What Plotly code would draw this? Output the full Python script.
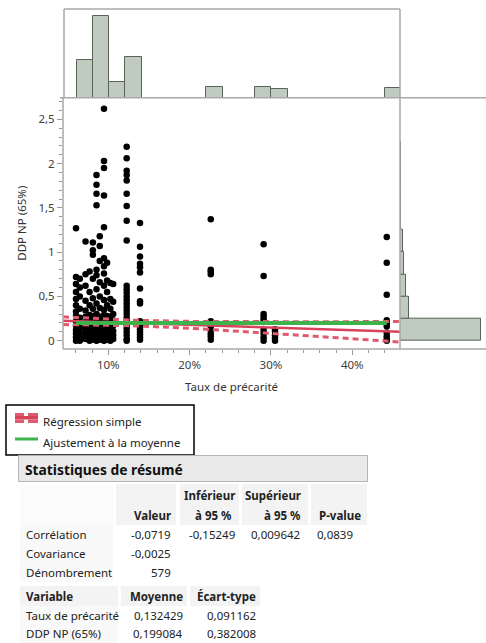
import plotly.graph_objects as go
import numpy as np

W, H = 486, 643

# ---------------- data ----------------
column_x = [0.0603, 0.0650, 0.0720, 0.0770, 0.0810, 0.0855, 0.0895, 0.0947,
            0.0985, 0.1025, 0.1060, 0.1226, 0.1390, 0.2260, 0.2910, 0.3050, 0.4424]
column_y = [
    [1.27, 0.72, 0.64, 0.55, 0.47, 0.40, 0.33, 0.28, 0.22, 0.17, 0.12, 0.08, 0.04, 0.0],
    [0.70, 0.60, 0.50, 0.36, 0.26, 0.20, 0.14, 0.09, 0.04, 0.0],
    [1.12, 0.75, 0.62, 0.45, 0.34, 0.27, 0.21, 0.16, 0.11, 0.06, 0.02],
    [0.78, 0.55, 0.40, 0.29, 0.23, 0.18, 0.12, 0.07, 0.03, 0.0],
    [1.11, 1.02, 0.97, 0.70, 0.48, 0.36, 0.28, 0.22, 0.16, 0.11, 0.06, 0.01],
    [1.87, 1.76, 1.66, 1.53, 0.80, 0.74, 0.58, 0.42, 0.30, 0.24, 0.19, 0.13, 0.08, 0.04, 0.0],
    [1.18, 1.07, 0.90, 0.66, 0.50, 0.37, 0.27, 0.21, 0.15, 0.10, 0.05, 0.01],
    [2.62, 2.03, 1.95, 1.64, 1.28, 0.93, 0.84, 0.76, 0.62, 0.46, 0.35, 0.29, 0.23, 0.17, 0.12, 0.07, 0.03, 0.0],
    [0.88, 0.68, 0.55, 0.40, 0.28, 0.22, 0.16, 0.10, 0.05, 0.01],
    [0.65, 0.47, 0.36, 0.27, 0.20, 0.14, 0.09, 0.04, 0.0],
    [0.64, 0.44, 0.30, 0.23, 0.17, 0.11, 0.06, 0.02],
    [2.19, 2.06, 1.92, 1.87, 1.81, 1.66, 1.52, 1.355, 1.13, 0.62, 0.58, 0.54, 0.50, 0.46, 0.42, 0.38,
     0.34, 0.30, 0.26, 0.22, 0.18, 0.14, 0.10, 0.06, 0.02, 0.0],
    [1.33, 1.06, 0.95, 0.87, 0.83, 0.77, 0.59, 0.445, 0.42, 0.22, 0.19, 0.16, 0.13, 0.10, 0.07, 0.04, 0.01],
    [1.37, 0.80, 0.78, 0.75, 0.22, 0.19, 0.16, 0.12, 0.08, 0.05, 0.01],
    [1.09, 0.73, 0.30, 0.27, 0.24, 0.21, 0.12, 0.08, 0.04, 0.0],
    [0.13, 0.10, 0.06, 0.03, 0.0],
    [1.17, 0.88, 0.52, 0.23, 0.19, 0.16, 0.09, 0.05, 0.02, 0.0],
]

top_bin_left = [0.06, 0.08, 0.10, 0.12, 0.22, 0.28, 0.30, 0.44]
top_counts = [101, 220, 43, 110, 29, 28, 23, 25]
top_bin_width = 0.02

right_bin_low = [0.0, 0.25, 0.5, 0.75, 1.0, 1.25, 1.5, 1.75, 2.0, 2.25, 2.5]
right_counts = [443, 47, 32, 21, 15, 6, 6, 5, 3, 0, 1]
right_bin_width = 0.25

n_obs = 579
corr = -0.0719
corr_low, corr_high, p_value = -0.15249, 0.009642, 0.0839
covariance = -0.0025
mean_x, sd_x = 0.132429, 0.091162
mean_y, sd_y = 0.199084, 0.382008

x_range = [0.0443, 0.4587]
y_range = [-0.094, 2.744]

# ---------------- helpers ----------------
def PX(px):
    return px / W

def PY(py):
    return 1 - py / H

FONT = "Noto Sans"
GRAY_LINE = "#a9a9a9"
BAR_FILL = "#bfcbbe"
BAR_LINE = "#5a635a"
RED = "#d8435c"
RED_D = "#e05a6e"
GREEN = "#3fb34b"
FS = 11.5

fig = go.Figure()

# scatter points
sx, sy = [], []
for cx, ys in zip(column_x, column_y):
    for v in ys:
        sx.append(cx)
        sy.append(v)
fig.add_trace(go.Scatter(x=sx, y=sy, mode="markers",
                         marker=dict(color="black", size=6.5, line=dict(width=0)),
                         xaxis="x", yaxis="y", hoverinfo="skip"))

# regression fit + confidence band (from summary stats)
slope = corr * sd_y / sd_x
intercept = mean_y - slope * mean_x
xg = np.linspace(x_range[0], x_range[1], 60)
yhat = intercept + slope * xg
s_res = sd_y * np.sqrt((1 - corr ** 2) * (n_obs - 1) / (n_obs - 2))
sxx = (n_obs - 1) * sd_x ** 2
half = 1.964 * s_res * np.sqrt(1.0 / n_obs + (xg - mean_x) ** 2 / sxx)
for band in (yhat + half, yhat - half):
    fig.add_trace(go.Scatter(x=xg, y=band, mode="lines",
                             line=dict(color=RED_D, width=3, dash="6px,4px"),
                             xaxis="x", yaxis="y", hoverinfo="skip"))
fig.add_trace(go.Scatter(x=xg, y=yhat, mode="lines", line=dict(color=RED, width=2.5),
                         xaxis="x", yaxis="y", hoverinfo="skip"))
# mean fit
fig.add_trace(go.Scatter(x=[min(column_x), max(column_x)], y=[mean_y, mean_y], mode="lines",
                         line=dict(color=GREEN, width=4), xaxis="x", yaxis="y", hoverinfo="skip"))

# top histogram
fig.add_trace(go.Bar(x=[b + top_bin_width / 2 for b in top_bin_left], y=top_counts,
                     width=top_bin_width, marker=dict(color=BAR_FILL, line=dict(color=BAR_LINE, width=1)),
                     xaxis="x2", yaxis="y2", hoverinfo="skip"))
# right histogram
fig.add_trace(go.Bar(y=[b + right_bin_width / 2 for b in right_bin_low], x=right_counts,
                     width=right_bin_width, orientation="h",
                     marker=dict(color=BAR_FILL, line=dict(color=BAR_LINE, width=1)),
                     xaxis="x3", yaxis="y3", hoverinfo="skip"))

main_x_dom = [PX(63), PX(400)]
main_y_dom = [PY(349), PY(97.7)]

tickfont = dict(family=FONT, size=FS, color="#404040")
fig.update_layout(
    width=W, height=H, margin=dict(l=0, r=0, t=0, b=0),
    paper_bgcolor="white", plot_bgcolor="white", showlegend=False,
    separators=", ",
    bargap=0,
    xaxis=dict(domain=main_x_dom, range=x_range, anchor="y", tickvals=[0.1, 0.2, 0.3, 0.4],
               tickformat=".0%", ticks="outside", ticklen=5, tickcolor="#9a9a9a", tickwidth=1,
               minor=dict(dtick=0.02, tick0=0, ticks="outside", ticklen=3, tickcolor="#9a9a9a"),
               showgrid=False, zeroline=False, showline=False, tickfont=tickfont),
    yaxis=dict(domain=main_y_dom, range=y_range, anchor="x", dtick=0.5, tick0=0,
               ticks="outside", ticklen=5, tickcolor="#9a9a9a", tickwidth=1,
               minor=dict(dtick=0.1, tick0=0, ticks="outside", ticklen=3, tickcolor="#9a9a9a"),
               showgrid=False, zeroline=False, showline=False, tickfont=tickfont),
    xaxis2=dict(domain=[PX(64), PX(400)], range=x_range, anchor="y2", visible=False),
    yaxis2=dict(domain=[PY(97.7), PY(9)], range=[0, 238], anchor="x2", visible=False),
    xaxis3=dict(domain=[PX(400), 1], range=[0, 472], anchor="y3", visible=False),
    yaxis3=dict(domain=main_y_dom, range=y_range, anchor="x3", visible=False),
)

shapes = []
def hline(x0, x1, y, color=GRAY_LINE, width=1.5):
    shapes.append(dict(type="line", xref="paper", yref="paper", x0=PX(x0), x1=PX(x1),
                       y0=PY(y), y1=PY(y), line=dict(color=color, width=width)))
def vline(x, y0, y1, color=GRAY_LINE, width=1.5):
    shapes.append(dict(type="line", xref="paper", yref="paper", x0=PX(x), x1=PX(x),
                       y0=PY(y0), y1=PY(y1), line=dict(color=color, width=width)))
def rect(x0, x1, y0, y1, fill, line_color=None, lw=0):
    shapes.append(dict(type="rect", xref="paper", yref="paper", x0=PX(x0), x1=PX(x1),
                       y0=PY(y1), y1=PY(y0), fillcolor=fill,
                       line=dict(color=line_color or fill, width=lw), layer="below" if lw == 0 and fill.startswith("#f") else "above"))

# frames
hline(64, 400, 9)           # top of top histogram
vline(64, 9, 97.7)          # left of top histogram
hline(60, 486, 97.7)        # baseline of top histogram
vline(400, 9, 349)          # right border / baseline of right histogram
vline(63, 97.7, 349)        # y axis line
hline(63, 486, 349)         # x axis line

# legend
rect(6, 194, 405, 455, "white", "black", 1.5)
rect(15, 24, 413, 416, RED_D)
rect(28, 38, 413, 416, RED_D)
rect(15, 38, 416, 419.5, RED)
rect(15, 24, 419.5, 423, RED_D)
rect(28, 38, 419.5, 423, RED_D)
rect(15, 38, 437.5, 440.5, GREEN)

# table title bar
rect(18.5, 367.5, 455.5, 481.5, "#e9e9e9", "#b5b5b5", 1)
# header cells
for a, b in [(116, 176), (180, 239), (242, 308), (311, 367)]:
    rect(a, b, 484, 525, "#f3f3f3")
rect(20, 113, 484, 525, "#fbfbfb")
for a, b in [(20, 118), (121, 187), (190, 260)]:
    rect(a, b, 586, 606, "#f3f3f3")
for y0, y1 in [(525, 544), (544, 563), (563, 582), (606, 625), (625, 643)]:
    rect(20, 118 if y0 > 600 else 113, y0, y1, "#f9f9f9")

fig.update_layout(shapes=shapes)

ann = []
def text(s, x, y, anchor="left", size=FS, bold=False, color="#222222", angle=0):
    ann.append(dict(text=("<b>%s</b>" % s) if bold else s, x=PX(x), y=PY(y), xref="paper", yref="paper",
                    xanchor=anchor, yanchor="middle", showarrow=False, textangle=angle,
                    font=dict(family=FONT, size=size, color=color)))

text("Taux de précarité", 231.5, 386.5, "center", FS, color="#333333")
text("DDP NP (65%)", 21.7, 223, "center", FS, color="#333333", angle=-90)
text("Régression simple", 40.5, 421.5, "left")
text("Ajustement à la moyenne", 40.5, 442.5, "left")
text("Statistiques de résumé", 23, 469, "left", 13.8, bold=True, color="#111111")

def fr(v, fmt):
    return (fmt % v).replace(".", ",")

# table 1
text("Inférieur", 237, 495, "right", bold=True)
text("Supérieur", 303, 495, "right", bold=True)
text("Valeur", 173, 515, "right", bold=True)
text("à 95 %", 234, 515, "right", bold=True)
text("à 95 %", 303, 515, "right", bold=True)
text("P-value", 363, 515, "right", bold=True)
text("Corrélation", 24, 534, "left")
text("Covariance", 24, 553, "left")
text("Dénombrement", 24, 572, "left")
text(fr(corr, "%.4f"), 173, 534, "right")
text(fr(corr_low, "%.5f"), 237, 534, "right")
text(fr(corr_high, "%.6f"), 302, 534, "right")
text(fr(p_value, "%.4f"), 315, 534, "left")
text(fr(covariance, "%.4f"), 173, 553, "right")
text(str(n_obs), 173, 572, "right")
# table 2
text("Variable", 24, 596, "left", bold=True)
text("Moyenne", 185, 596, "right", bold=True)
text("Écart-type", 258, 596, "right", bold=True)
text("Taux de précarité", 24, 615, "left")
text("DDP NP (65%)", 24, 633.5, "left")
text(fr(mean_x, "%.6f"), 185, 615, "right")
text(fr(sd_x, "%.6f"), 258, 615, "right")
text(fr(mean_y, "%.6f"), 185, 633.5, "right")
text(fr(sd_y, "%.6f"), 258, 633.5, "right")

fig.update_layout(annotations=ann)
fig.write_html("out.html")
